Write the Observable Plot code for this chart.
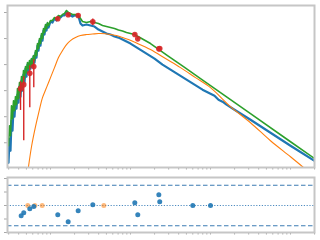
<!DOCTYPE html>
<html><head><meta charset="utf-8">
<script src="https://cdn.jsdelivr.net/npm/d3@7"></script>
<script src="https://cdn.jsdelivr.net/npm/@observablehq/plot@0.6"></script>
<style>body{margin:0;background:#fff}#chart svg{display:block}</style>
</head><body><div id="chart"></div>
<script>
// model spectra: log10 wavelength (micron), log10 flux
const blueLogLam = [-1.525,-1.5125,-1.5,-1.4875,-1.475,-1.4625,-1.45,-1.4375,-1.425,-1.4125,-1.4,-1.3875,-1.375,-1.3625,-1.35,-1.3375,-1.325,-1.3125,-1.3,-1.2875,-1.275,-1.2625,-1.25,-1.2375,-1.225,-1.2125,-1.2,-1.1875,-1.175,-1.1625,-1.15,-1.1375,-1.125,-1.1125,-1.1,-1.0875,-1.075,-1.0625,-1.05,-1.0375,-1.025,
 -1.0,-0.975,-0.95,-0.925,-0.9,-0.875,-0.85,-0.825,-0.8,-0.775,-0.75,-0.725,-0.7,-0.675,-0.65,-0.625,-0.6,
 -0.55,-0.5,-0.45,-0.4,-0.35,-0.3,-0.25,-0.2,-0.15,-0.1,-0.05,0,
 0.1,0.2,0.3,0.4,0.5,0.6,0.7,0.8,0.9,1.0,1.05,1.1,1.15,1.2,1.3,1.5,1.75,2.0,2.3];
const blueLogFlux = [-14.769,-13.846,-14.308,-13.154,-13.538,-12.692,-13.0,-12.385,-12.692,-12.154,-12.462,-11.846,-12.231,-11.615,-12.0,-11.385,-11.692,-11.154,-11.462,-11.0,-11.269,-10.923,-11.154,-10.808,-11.077,-10.692,-10.923,-10.538,-10.731,-10.269,-10.462,-10.077,-10.269,-9.885,-10.077,-9.692,-9.846,-9.538,-9.692,-9.423,-9.577,
 -9.346,-9.385,-9.231,-9.308,-9.154,-9.192,-9.115,-9.115,-9.0,-9.077,-9.115,-9.154,-9.115,-9.115,-9.154,-9.423,-9.5,
 -9.462,-9.5,-9.538,-9.654,-9.731,-9.808,-9.846,-9.923,-9.962,-10.038,-10.115,-10.192,
 -10.385,-10.577,-10.769,-11.0,-11.192,-11.385,-11.577,-11.769,-11.962,-12.115,-12.192,-12.346,-12.423,-12.538,-12.731,-13.115,-13.615,-14.115,-14.692];
const greenLogLam = [-1.525,-1.5125,-1.5,-1.4875,-1.475,-1.4625,-1.45,-1.4375,-1.425,-1.4125,-1.4,-1.3875,-1.375,-1.3625,-1.35,-1.3375,-1.325,-1.3125,-1.3,-1.2875,-1.275,-1.2625,-1.25,-1.2375,-1.225,-1.2125,-1.2,-1.1875,-1.175,-1.1625,-1.15,-1.1375,-1.125,-1.1125,-1.1,-1.0875,-1.075,-1.0625,-1.05,-1.0375,-1.025,
 -1.0,-0.975,-0.95,-0.925,-0.9,-0.875,-0.85,-0.825,-0.8,-0.775,-0.75,-0.725,-0.7,-0.675,-0.65,-0.625,-0.6,
 -0.55,-0.5,-0.45,-0.4,-0.35,-0.3,-0.25,-0.2,-0.15,-0.1,-0.05,0,
 0.05,0.25,0.4625,0.6625,0.875,1.0,1.5,2.0,2.3];
const greenLogFlux = [-14.115,-13.346,-13.731,-12.577,-13.077,-12.385,-12.769,-12.231,-12.538,-11.923,-12.308,-11.692,-12.077,-11.462,-11.846,-11.231,-11.538,-11.077,-11.308,-10.923,-11.154,-10.846,-11.077,-10.769,-11.0,-10.654,-10.846,-10.462,-10.654,-10.192,-10.385,-10.0,-10.192,-9.808,-10.0,-9.615,-9.769,-9.462,-9.615,-9.385,-9.5,
 -9.308,-9.308,-9.192,-9.231,-9.115,-9.154,-9.077,-9.038,-8.923,-9.0,-9.038,-9.077,-9.077,-9.077,-9.115,-9.231,-9.346,
 -9.385,-9.346,-9.385,-9.423,-9.5,-9.538,-9.577,-9.615,-9.673,-9.712,-9.769,-9.808,
 -9.846,-10.192,-10.654,-11.077,-11.538,-11.808,-12.885,-13.962,-14.604];
const orangeLogLam = [-1.275,-1.2375,-1.1875,-1.15,-1.1,-1.05,-1.0,-0.95,-0.9,-0.85,-0.8,-0.75,-0.6875,-0.625,-0.55,-0.475,-0.4,-0.3125,-0.25,-0.175,-0.1,-0.025,0.0625,0.25,0.4375,0.625,0.8125,1.0,1.25,1.5,1.75,2.0,2.1625];
const orangeLogFlux = [-14.923,-14.154,-13.385,-12.885,-12.269,-11.885,-11.5,-11.115,-10.731,-10.462,-10.231,-10.077,-9.962,-9.885,-9.846,-9.827,-9.808,-9.815,-9.846,-9.885,-9.962,-10.038,-10.154,-10.423,-10.769,-11.115,-11.5,-11.885,-12.615,-13.231,-13.923,-14.538,-14.95];

// photometry (micron, flux, error)
const photLam  = [0.0422,0.0463,0.0551,0.0618,0.1233,0.1663,0.2218,0.338,1.132,1.233,2.26,2.32];
const photFlux = [1.194e-12,1.702e-12,4.62e-12,8.37e-12,5.73e-10,8.17e-10,7.67e-10,4.39e-10,1.426e-10,9.73e-11,4.02e-11,4.12e-11];
const photErr  = [1.02e-12,1.69e-12,4.40e-12,7.07e-12,0.92e-10,1.2e-10,1.15e-10,1.23e-10,0.14e-10,0.97e-11,0.4e-11,0.41e-11];

// residuals
const residLam = [0.043,0.0463,0.0551,0.0618,0.1233,0.1663,0.2218,0.338,1.132,1.233,2.26,2.32,6.01,10.0];
const residVal = [-1.53,-1.08,-0.49,-0.15,-1.38,-2.42,-0.79,0.1,0.4,-1.38,1.58,0.55,0,0];
const limitLam = [0.052,0.0637,0.0787,0.464];
const limitVal = [0,0,0,0];

const xTicks = [0.03,0.04,0.05,0.06,0.07,0.08,0.09,0.1,0.2,0.3,0.4,0.5,0.6,0.7,0.8,0.9,1,2,3,4,5,6,7,8,9,10,20,30,40,50,60,70,80,90,100,200];
const yTicks = [1e-14,1e-13,1e-12,1e-11,1e-10,1e-9];
const residTicks = [-4,-2,0,2,4];
const sigmaLines = [-3,3];

const spec = (ls, fs) => ls.map((l, i) => ({lam: 10 ** l, flux: 10 ** fs[i]}));
const blueRows = spec(blueLogLam, blueLogFlux);
const greenRows = spec(greenLogLam, greenLogFlux);
const orangeRows = spec(orangeLogLam, orangeLogFlux);
const photRows = photLam.map((l, i) => ({lam: l, flux: photFlux[i], err: photErr[i]}));
const residRows = residLam.map((l, i) => ({lam: l, r: residVal[i]}));
const limitRows = limitLam.map((l, i) => ({lam: l, r: limitVal[i]}));

const xScale = {type: "log", domain: [0.02901, 199.5], ticks: xTicks, tickFormat: () => "", tickSize: 2.5, label: null};
const frameColor = "#c6c6c6";

const sedPlot = Plot.plot({
  width: 320, height: 171,
  marginLeft: 7, marginRight: 6, marginTop: 5, marginBottom: 4,
  style: {color: "#a8a8a8", background: "white"},
  x: xScale,
  y: {type: "log", domain: [1.122e-15, 1.858e-9], ticks: yTicks, tickFormat: () => "", tickSize: 3, label: null},
  marks: [
    Plot.line(blueRows, {x: "lam", y: "flux", stroke: "#1f77b4", strokeWidth: 2.2, clip: true}),
    Plot.line(greenRows, {x: "lam", y: "flux", stroke: "#2ca02c", strokeWidth: 1.6, clip: true}),
    Plot.line(orangeRows, {x: "lam", y: "flux", stroke: "#ff7f0e", strokeWidth: 1.1, curve: "catmull-rom", clip: true}),
    Plot.ruleX(photRows, {x: "lam", y1: d => d.flux - d.err, y2: d => d.flux + d.err, stroke: "#d62728", strokeWidth: 1.4}),
    Plot.dot(photRows, {x: "lam", y: "flux", r: 2.8, fill: "#d62728", fillOpacity: 0.9}),
    Plot.frame({stroke: frameColor, strokeWidth: 2})
  ]
});

const residPlot = Plot.plot({
  width: 320, height: 69,
  marginLeft: 7, marginRight: 6, marginTop: 6, marginBottom: 8,
  style: {color: "#a8a8a8", background: "white"},
  x: xScale,
  y: {domain: [-4, 4.15], ticks: residTicks, tickFormat: () => "", tickSize: 3, label: null},
  marks: [
    Plot.ruleY(sigmaLines, {stroke: "#3b7bb3", strokeWidth: 1, strokeDasharray: "4.5,2.5"}),
    Plot.ruleY([0], {stroke: "#4f8cc0", strokeWidth: 1.1, strokeDasharray: "1.2,1.6"}),
    Plot.dot(limitRows, {x: "lam", y: "r", r: 2.5, fill: "#ff7f0e", fillOpacity: 0.55}),
    Plot.dot(residRows, {x: "lam", y: "r", r: 2.5, fill: "#1f77b4", fillOpacity: 0.9}),
    Plot.frame({stroke: frameColor, strokeWidth: 2})
  ]
});

document.getElementById("chart").append(sedPlot, residPlot);
</script>
</body></html>
